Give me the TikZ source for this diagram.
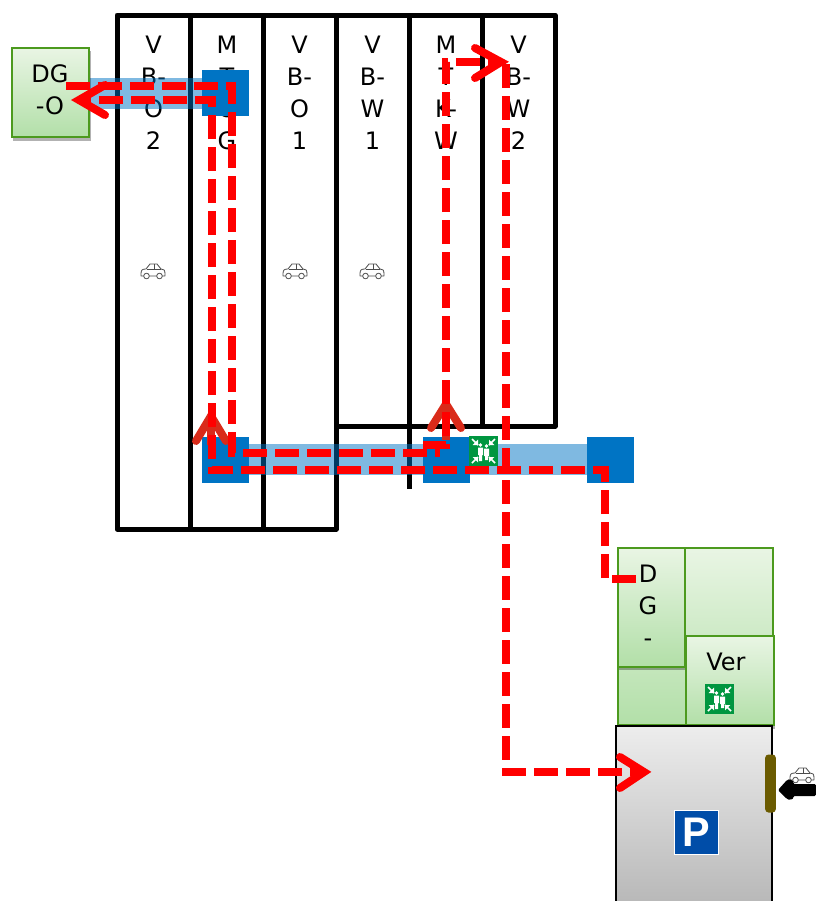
\documentclass[tikz,border=0pt]{standalone}
\usepackage{fontspec}
\setmainfont{DejaVu Sans}
\newfontfamily\signfont{Liberation Sans}
\usetikzlibrary{shadows}
\definecolor{blueA}{HTML}{0074C4}
\definecolor{greenB}{HTML}{4C9A1E}
\definecolor{greenT}{HTML}{E9F5E4}
\definecolor{greenE}{HTML}{B2DFA8}
\definecolor{redP}{HTML}{FF0000}
\definecolor{redD}{HTML}{D92B1A}
\definecolor{signG}{HTML}{009640}
\definecolor{signB}{HTML}{004DA8}
\definecolor{brownB}{HTML}{6B5B00}
\tikzset{
  x=0.75pt,y=-0.75pt,
  lab/.style={font=\fontsize{18}{24}\selectfont,align=center,inner sep=0pt,anchor=north,text=black},
  col/.style={draw=black,line width=3.75pt,line join=round},
  greenbox/.style={draw=greenB,line width=1.6pt,top color=greenT,bottom color=greenE,shading angle=0},
  shad/.style={drop shadow={shadow xshift=1pt,shadow yshift=-2.5pt,fill=black,opacity=.3}},
  hub/.style={fill=blueA,draw=none,minimum width=35.2pt,minimum height=34.5pt,inner sep=0pt,anchor=north west},
  corr/.style={fill=blueA,opacity=.5,draw=none},
  route/.style={draw=redP,line width=5.8pt,dash pattern=on 18pt off 6pt},
  headr/.style={draw=redP,line width=6pt,line cap=round,line join=miter},
  headd/.style={draw=redD,line width=6pt,line cap=round,line join=miter},
  pics/carIcon/.style={code={
    \draw[black!70,line width=.6pt,fill=white,line join=round]
      (-12,3) .. controls (-12,-1) and (-11,-2) .. (-7,-2) -- (-3,-7) -- (4,-7) -- (8,-2) .. controls (11,-2) and (12,-1) .. (12,3) -- (12,5) -- (-12,5) -- cycle;
    \draw[black!70,line width=.6pt] (-6,-2) -- (8,-2) (1,-7) -- (1,-2);
    \draw[black!70,line width=.6pt,fill=white] (-6.5,5) circle (2.8) (6.5,5) circle (2.8);
  }},
  pics/assembly/.style={code={
    \fill[signG] (0,0) rectangle (29,30);
    \fill[white] (11.5,9) circle (1.9) (17.5,10) circle (1.9);
    \fill[white] (9,11.5) rectangle (14,19) (10,19) rectangle (13,25);
    \fill[white] (15,12.5) rectangle (20,20) (16,20) rectangle (19,24);
    \foreach \a/\b/\c/\d in {3/3/9/9,26/3/20/9,3/27/9/21,26/27/20/21}{
      \draw[white,line width=1.1pt] (\a,\b) -- (\c,\d);
      \fill[white] (\c,\d) -- ++({(\a-\c)*.9},0) -- ++({(\c-\a)*.9},{(\b-\d)*.9}) -- cycle;
    }
  }}
}
\begin{document}
\begin{tikzpicture}
\useasboundingbox (0,0) rectangle (816,901);
% column labels
\node[lab] (c1) at (153.5,36) {V\\B-\\O\\2};
\node[lab] (c2) at (227,36) {M\\T\\O\\G};
\node[lab] (c3) at (299.5,36) {V\\B-\\O\\1};
\node[lab] (c4) at (372.5,36) {V\\B-\\W\\1};
\node[lab] (c5) at (446,36) {M\\T\\K-\\W};
\node[lab] (c6) at (518.5,36) {V\\B-\\W\\2};
% columns
\draw[col] (117,15) rectangle (190,529);
\draw[col] (190,15) rectangle (263,529);
\draw[col] (263,15) rectangle (336,529);
\draw[col] (336,15) rectangle (409,426);
\draw[col] (409,15) rectangle (482,426);
\draw[col] (482,15) rectangle (555,426);
\draw[line width=3.75pt] (409,412) -- (409,489);
% cars
\path (153,271) pic {carIcon};
\path (295,271) pic {carIcon};
\path (372,271) pic {carIcon};
% corridors and hubs
\fill[corr] (89,78) rectangle (202,109);
\fill[corr] (249,444) rectangle (587,475);
\node[hub] (h1) at (202,70) {};
\node[hub] (h2) at (202,437) {};
\node[hub] (h3) at (423,437) {};
\node[hub] (h4) at (587,437) {};
\path (469,436) pic {assembly};
% DG-O
\node[greenbox,shad,minimum width=58pt,minimum height=67pt,inner sep=0pt,anchor=north west] (dgo) at (11,47) {};
\node[lab] (dgol) at (50,64) {DG\\-O};
% right group
\node[greenbox,minimum width=116pt,minimum height=133pt,inner sep=0pt,anchor=north west] (room) at (617,547) {};
\node[greenbox,shad,minimum width=50pt,minimum height=89pt,inner sep=0pt,anchor=north west] (dg) at (617,547) {};
\node[lab] (dgl) at (648,565) {D\\G\\-};
\node[greenbox,shad,minimum width=66pt,minimum height=67pt,inner sep=0pt,anchor=north west] (ver) at (685,635) {};
\node[lab] (verl) at (726,653) {Ver};
\path (705,684) pic {assembly};
% parking
\fill[top color=black!7,bottom color=black!28,shading angle=0] (616,726) rectangle (772,905);
\draw[black,line width=1.6pt] (616,905) -- (616,726) -- (772,726) -- (772,905);
\node[fill=signB,draw=white,line width=.6pt,minimum width=33.5pt,minimum height=33.5pt,inner sep=0pt,text=white,font=\fontsize{31}{31}\selectfont\signfont\bfseries] (park) at (696.5,832.5) {P};
\node[fill=brownB,rounded corners=2.5pt,minimum width=8pt,minimum height=43.5pt,inner sep=0pt] (gate) at (770.5,783.5) {};
\path (802,775) pic {carIcon};
\coordinate (blkE) at (816,790);
\fill[black,rounded corners=1pt] (blkE) ++(0,-6) -- (793,784) -- (794,782) -- (790,779) -- (787,780) -- (778,790) -- (787,799) -- (790,800) -- (794,798) -- (793,796) -- (816,796) -- cycle;
% dark arrow heads
\coordinate (ta) at (211,416);
\coordinate (tb) at (446,404);
\draw[headd] (196,441) -- (ta) -- (226,441);
\draw[headd] (431,428) -- (tb) -- (461,428);
\draw[draw=redD,line width=6pt] (ta) -- (211,445);
\draw[draw=redD,line width=6pt] (tb) -- (446,440);
% red routes
\coordinate (a0) at (66,86);
\coordinate (a1) at (232,86);
\coordinate (a2) at (232,453);
\coordinate (a3) at (440,453);
\coordinate (a4) at (423,445);
\coordinate (a5) at (446,445);
\coordinate (a6) at (446,62);
\coordinate (a7) at (500,62);
\draw[route] (a0) -- (a1) -- (a2) -- (a3);
\draw[route] (a4) -- (a5) -- (a6) -- (a7);
\coordinate (b0) at (506,64);
\coordinate (b1) at (506,772);
\coordinate (b2) at (640,772);
\draw[route] (b0) -- (b1) -- (b2);
\coordinate (c0) at (636,579);
\coordinate (c1a) at (605,579);
\coordinate (c2a) at (605,470);
\coordinate (c3a) at (212,470);
\coordinate (c4a) at (212,100);
\coordinate (c5a) at (78,100);
\draw[route] (c0) -- (c1a) -- (c2a) -- (c3a) -- (c4a) -- (c5a);
\draw[headr] (105,85) -- (79,100) -- (105,115);
\draw[headr] (475,48) -- (501,62) -- (475,78);
\draw[headr] (620,757) -- (644,772) -- (620,788);
\end{tikzpicture}
\end{document}
